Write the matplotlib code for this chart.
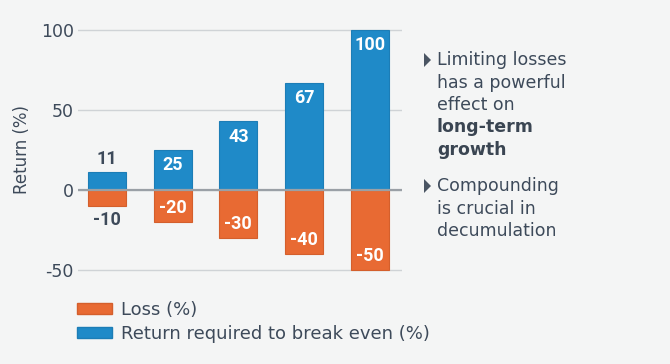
import matplotlib
matplotlib.use("Agg")
import matplotlib.pyplot as plt
from matplotlib.patches import Patch, Polygon
import numpy as np

plt.rcParams["axes.unicode_minus"] = False

loss = [-10, -20, -30, -40, -50]
breakeven = [11, 25, 43, 67, 100]
yticks = [-50, 0, 50, 100]
ylabel = "Return (%)"
legend_labels = ["Loss (%)", "Return required to break even (%)"]
notes = [
    [("Limiting losses", "normal"), ("has a powerful", "normal"), ("effect on", "normal"),
     ("long-term", "bold"), ("growth", "bold")],
    [("Compounding", "normal"), ("is crucial in", "normal"), ("decumulation", "normal")],
]

BG = "#f4f5f5"
BLUE = "#1f8ac8"
ORANGE = "#e86a33"
TXT = "#3d4a5a"
FONT = ["DejaVu Sans"]

W, H = 670, 364
fig = plt.figure(figsize=(W / 100, H / 100), dpi=100, facecolor=BG)
ax = fig.add_axes([78 / W, (H - 278) / H, (402 - 78) / W, 256 / H], facecolor=BG)

x = np.arange(len(loss))
bw = 0.58
ax.bar(x, breakeven, bw, color=BLUE, edgecolor="#1c7db6", linewidth=0.8, zorder=3)
ax.bar(x, loss, bw, color=ORANGE, edgecolor="#d45f2c", linewidth=0.8, zorder=3)

numfont = dict(family=["Roboto", "DejaVu Sans"], fontweight="bold", fontsize=13)
for xi, v in zip(x, breakeven):
    if v < 20:
        ax.text(xi, v + 3, f"{v}", ha="center", va="bottom", color=TXT, **numfont, zorder=4)
    else:
        ax.text(xi, v - 4, f"{v}", ha="center", va="top", color="white", **numfont, zorder=4)
for xi, v in zip(x, loss):
    if abs(v) < 15:
        ax.text(xi, v - 3, f"{v}", ha="center", va="top", color=TXT, **numfont, zorder=4)
    else:
        ax.text(xi, v + 3, f"{v}", ha="center", va="bottom", color="white", **numfont, zorder=4)

ax.set_xlim(-0.44, 4.49)
ax.set_ylim(-55, 105)
ax.set_yticks(yticks)
ax.set_xticks([])
for s in ax.spines.values():
    s.set_visible(False)
ax.grid(axis="y", color="#cfd3d6", linewidth=1.0, zorder=0)
ax.axhline(0, color="#9aa0a6", linewidth=1.6, zorder=5)
ax.tick_params(axis="y", length=0, pad=3, labelsize=12.5, labelcolor=TXT)
for lab in ax.get_yticklabels():
    lab.set_family(FONT)
ax.set_ylabel(ylabel, fontsize=12, color=TXT, family=FONT, labelpad=7)

handles = [Patch(facecolor=ORANGE, edgecolor="#d45f2c"), Patch(facecolor=BLUE, edgecolor="#1c7db6")]
fig.legend(handles, legend_labels, loc="upper left", bbox_to_anchor=(70 / W, 1 - 294 / H),
           frameon=False, prop=dict(family=FONT, size=13),
           labelcolor=TXT, handlelength=1.9, handleheight=0.55, handletextpad=0.55,
           labelspacing=0.3, borderaxespad=0)

tx = 437
ys = [60, 186]
lh = 22.5
for block, y0 in zip(notes, ys):
    tri = Polygon([[(424) / W, 1 - (y0 - 7) / H], [(424) / W, 1 - (y0 + 7) / H],
                   [(431) / W, 1 - y0 / H]], closed=True, transform=fig.transFigure,
                  facecolor="#4a5563", edgecolor="none")
    fig.add_artist(tri)
    for i, (line, wt) in enumerate(block):
        fig.text(tx / W, 1 - (y0 + i * lh) / H, line, ha="left", va="center",
                 fontsize=12.5, fontweight=wt, color=TXT if wt == "normal" else "#3a4552",
                 family=FONT)

fig.savefig("out.png", dpi=100, facecolor=BG)
